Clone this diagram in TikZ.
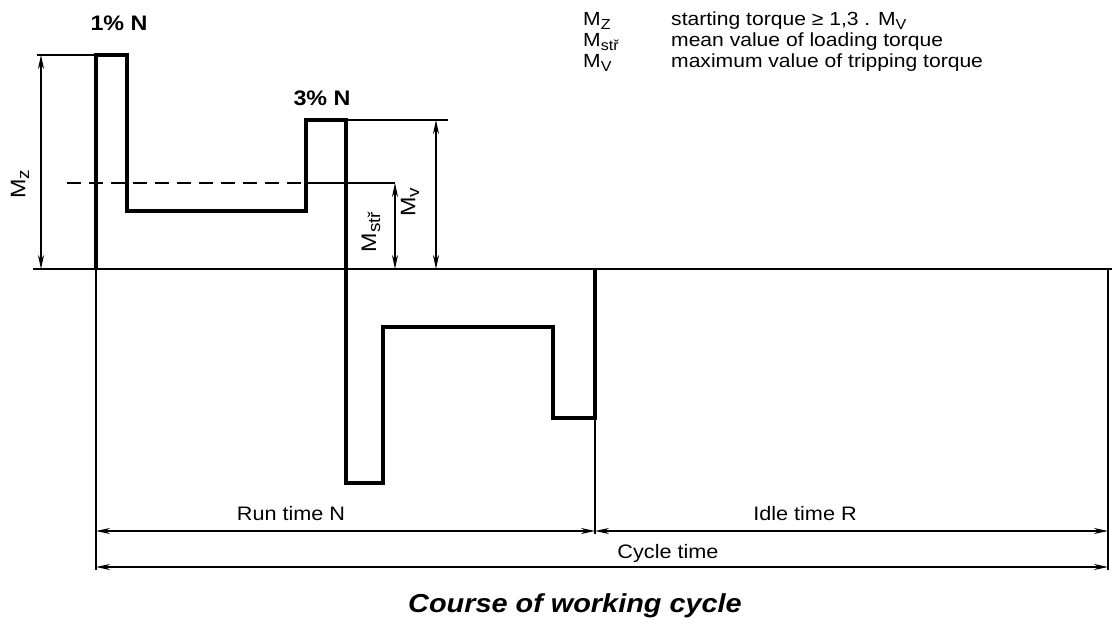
\documentclass[tikz,border=0pt]{standalone}
\usepackage{fontspec}
\setmainfont{Liberation Sans}[FakeStretch=1.11]
\usetikzlibrary{arrows.meta}
\newcommand\lsub[1]{\raisebox{-0.35ex}{\fontsize{14.5}{14.5}\selectfont #1}}
\newcommand\hsub[1]{\raisebox{-0.35ex}{\fontsize{17}{17}\selectfont #1}}
\begin{document}
\begin{tikzpicture}[x=1pt,y=-1pt,
  wave/.style={line width=3.2pt, line join=miter},
  thinline/.style={line width=1.5pt},
  dimline/.style={line width=1.5pt, {Stealth[length=14pt,width=6pt]}-{Stealth[length=14pt,width=6pt]}},
  hand/.style={font=\bfseries\fontsize{21}{24}\selectfont, inner sep=0pt},
  txt/.style={font=\fontsize{19}{21}\selectfont, inner sep=0pt, anchor=base west},
  ctxt/.style={font=\fontsize{19.5}{22}\selectfont, inner sep=0pt, anchor=base},
]
\useasboundingbox (0,0) rectangle (1112,628);
% waveform corners
\coordinate (A0) at (96,269);
\coordinate (A1) at (96,55);
\coordinate (A2) at (127,55);
\coordinate (A3) at (127,211);
\coordinate (A4) at (306,211);
\coordinate (A5) at (306,120);
\coordinate (A6) at (346,120);
\coordinate (A7) at (346,483);
\coordinate (A8) at (383,483);
\coordinate (A9) at (383,327);
\coordinate (A10) at (553,327);
\coordinate (A11) at (553,418);
\coordinate (A12) at (595,418);
\coordinate (A13) at (595,269);
% axis and helper points
\coordinate (axL) at (33,269);
\coordinate (axR) at (1112,269);
\coordinate (R0) at (1108,269);
\coordinate (B0) at (96,570);
\coordinate (B1) at (595,534);
\coordinate (B2) at (1108,570);
\coordinate (mzT) at (37,55);
\coordinate (mvT) at (448,120);
\coordinate (dL) at (67,183);
\coordinate (dM) at (306,183);
\coordinate (dR) at (395,183);
\coordinate (mzA) at (41,55);
\coordinate (mzB) at (41,269);
\coordinate (mvA) at (436,120);
\coordinate (mvB) at (436,269);
\coordinate (msB) at (395,269);
\coordinate (rL) at (96,531);
\coordinate (rM) at (595,531);
\coordinate (rR) at (1108,531);
\coordinate (cL) at (96,567);
\coordinate (cR) at (1108,567);

\draw[thinline] (axL) -- (axR);
\draw[wave] (A0) -- (A1) -- (A2) -- (A3) -- (A4) -- (A5) -- (A6) -- (A7) -- (A8) -- (A9) -- (A10) -- (A11) -- (A12) -- (A13);
% extension lines
\draw[thinline] (A0) -- (B0);
\draw[thinline] (A12) -- (B1);
\draw[thinline] (R0) -- (B2);
\draw[thinline] (mzT) -- (A1);
\draw[thinline] (A6) -- (mvT);
\draw[thinline, dash pattern=on 14pt off 8pt] (dL) -- (dM);
\draw[thinline] (dM) -- (dR);
% dimension arrows
\draw[dimline] (mzA) -- (mzB);
\draw[dimline] (mvA) -- (mvB);
\draw[dimline] (dR) -- (msB);
\draw[dimline] (rL) -- (rM);
\draw[dimline] (rM) -- (rR);
\draw[dimline] (cL) -- (cR);
% hand labels
\node[hand] (p1) at (119,23) {1\% N};
\node[hand] (p3) at (322,98) {3\% N};
\node[hand, font=\fontsize{21}{24}\selectfont, rotate=90] (lz) at (20,184) {M\hsub{z}};
\node[hand, font=\fontsize{21}{24}\selectfont, rotate=90] (ls) at (371,232) {M\hsub{stř}};
\node[hand, font=\fontsize{21}{24}\selectfont, rotate=90] (lv) at (410,202) {M\hsub{v}};
% legend
\node[txt] (k1) at (583,26) {M\lsub{Z}};
\node[txt] (k2) at (583,47) {M\lsub{stř}};
\node[txt] (k3) at (583,68) {M\lsub{V}};
\node[txt] (d1) at (671,26) {starting torque ≥ 1,3 . M\lsub{V}};
\node[txt] (d2) at (671,47) {mean value of loading torque};
\node[txt] (d3) at (671,68) {maximum value of tripping torque};
% dimension texts
\node[ctxt] (tr) at (291,520) {Run time N};
\node[ctxt] (ti) at (805,520) {Idle time R};
\node[ctxt] (tc) at (668,558) {Cycle time};
\node[inner sep=0pt, anchor=base, font=\bfseries\itshape\fontsize{26}{28}\selectfont] (title) at (575,612) {Course of working cycle};
\end{tikzpicture}
\end{document}
